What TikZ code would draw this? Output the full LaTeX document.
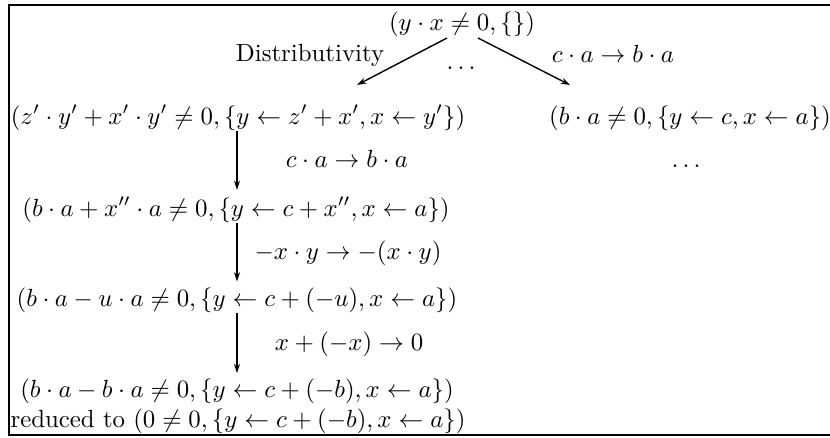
\documentclass[tikz,border=0pt]{standalone}
\usetikzlibrary{arrows.meta}
\begin{document}
\begin{tikzpicture}[x=0.429pt,y=-0.429pt,
  lbl/.style={inner sep=0pt, anchor=base, scale=1.065},
  arr/.style={-{Stealth[length=4pt,width=2.6pt]}, line width=0.6pt}]
\useasboundingbox (0,0) rectangle (830,438);
\draw[line width=0.9pt] (831,5) -- (9,5) -- (9,435) -- (831,435);
\node[lbl] (r1) at (462,30) {$(y\cdot x\neq 0,\{\})$};
\node[lbl] (dist) at (310,61) {Distributivity};
\node[lbl] (rule1) at (613,63) {$c\cdot a\rightarrow b\cdot a$};
\node[lbl] (dots1) at (461,69) {$\dots$};
\node[lbl] (r2) at (238,124) {$(z'\cdot y'+x'\cdot y'\neq 0,\{y\leftarrow z'+x',x\leftarrow y'\})$};
\node[lbl] (rb) at (690,124) {$(b\cdot a\neq 0,\{y\leftarrow c,x\leftarrow a\})$};
\node[lbl] (rule2) at (347,167) {$c\cdot a\rightarrow b\cdot a$};
\node[lbl] (dots2) at (686,167) {$\dots$};
\node[lbl] (r3) at (236,216) {$(b\cdot a+x''\cdot a\neq 0,\{y\leftarrow c+x'',x\leftarrow a\})$};
\node[lbl] (rule3) at (348,259) {$-x\cdot y\rightarrow -(x\cdot y)$};
\node[lbl] (r4) at (237,306) {$(b\cdot a-u\cdot a\neq 0,\{y\leftarrow c+(-u),x\leftarrow a\})$};
\node[lbl] (rule4) at (349,350) {$x+(-x)\rightarrow 0$};
\node[lbl] (r5) at (237,397) {$(b\cdot a-b\cdot a\neq 0,\{y\leftarrow c+(-b),x\leftarrow a\})$};
\node[lbl] (r6) at (238,427) {reduced to $(0\neq 0,\{y\leftarrow c+(-b),x\leftarrow a\})$};
\coordinate (s1) at (447,38);
\coordinate (e1) at (357,85);
\coordinate (s2) at (478,38);
\coordinate (e2) at (570,85);
\draw[arr] (s1) -- (e1);
\draw[arr] (s2) -- (e2);
\draw[arr] (r2.south -| 237,0) -- ([yshift=3pt]r3.north -| 237,0);
\draw[arr] (r3.south -| 237,0) -- ([yshift=2.3pt]r4.north -| 237,0);
\draw[arr] (r4.south -| 237,0) -- ([yshift=2pt]r5.north -| 237,0);
\end{tikzpicture}
\end{document}
